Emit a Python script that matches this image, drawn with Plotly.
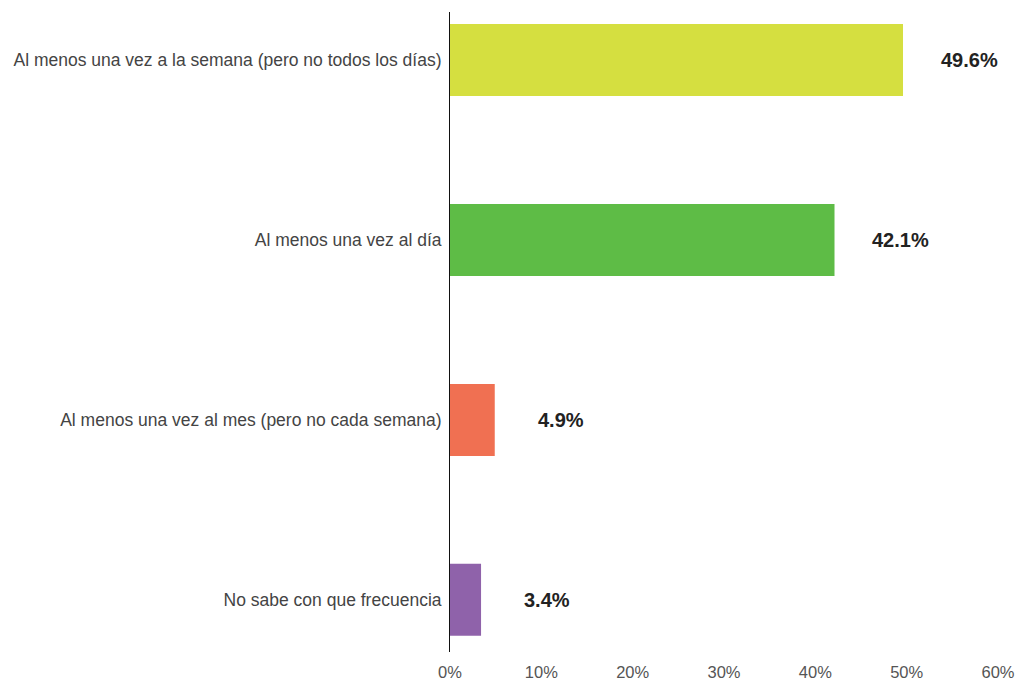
import plotly.graph_objects as go

# Frecuencia de uso: categorías, porcentajes y colores de cada barra
categorias = [
    "Al menos una vez a la semana (pero no todos los días)",
    "Al menos una vez al día",
    "Al menos una vez al mes (pero no cada semana)",
    "No sabe con que frecuencia",
]
porcentajes = [49.6, 42.1, 4.9, 3.4]
colores = ["#D5DF40", "#5EBC46", "#F07052", "#8F62AA"]
ticks_x = [0, 10, 20, 30, 40, 50, 60]
ticks_x_texto = ["0%", "10%", "20%", "30%", "40%", "50%", "60%"]

fig = go.Figure(
    go.Bar(
        x=porcentajes,
        y=categorias,
        orientation="h",
        marker=dict(color=colores, line=dict(width=0)),
        width=0.4,
        hoverinfo="x+y",
    )
)

# Etiquetas de valor en negrita a la derecha de cada barra
for cat, val in zip(categorias, porcentajes):
    fig.add_annotation(
        x=val,
        y=cat,
        xref="x",
        yref="y",
        text=f"<b>{val:.1f}%</b>",
        showarrow=False,
        xanchor="center",
        yanchor="middle",
        xshift=66,
        font=dict(family="Liberation Sans, Arial, sans-serif", size=20, color="#222222"),
    )

fig.update_layout(
    width=1019,
    height=681,
    margin=dict(l=450, r=21, t=12, b=29),
    paper_bgcolor="white",
    plot_bgcolor="white",
    showlegend=False,
    font=dict(family="Liberation Sans, Arial, sans-serif", size=17.5, color="#444444"),
    bargap=0.6,
)

fig.update_xaxes(
    range=[0, 60],
    tickvals=ticks_x,
    ticktext=ticks_x_texto,
    showgrid=False,
    zeroline=False,
    showline=False,
    ticks="outside",
    ticklen=5,
    tickcolor="rgba(0,0,0,0)",
    tickfont=dict(size=16.5, color="#555555"),
    automargin=False,
    fixedrange=True,
)

fig.update_yaxes(
    categoryorder="array",
    categoryarray=categorias,
    range=[3.29, -0.267],
    showgrid=False,
    zeroline=False,
    showline=True,
    linecolor="#111111",
    linewidth=1,
    ticks="outside",
    ticklen=4,
    tickcolor="rgba(0,0,0,0)",
    tickfont=dict(size=17.5, color="#444444"),
    automargin=False,
    fixedrange=True,
)

fig.write_html("out.html")
